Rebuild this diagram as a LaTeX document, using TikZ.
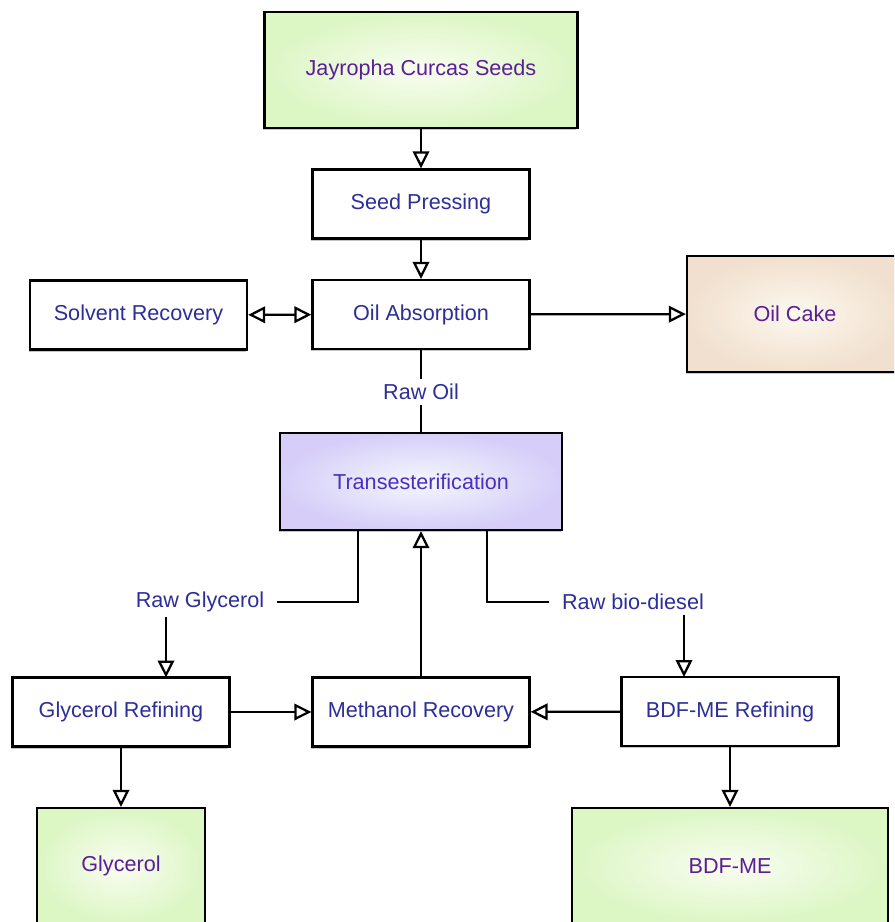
\documentclass[tikz,border=0pt]{standalone}
\usepackage{fontspec}
\setmainfont{Liberation Sans}
\usetikzlibrary{arrows.meta,calc,shadows}

\definecolor{boxtext}{HTML}{2E2E9A}
\definecolor{seedtext}{HTML}{5A1E96}
\definecolor{transtext}{HTML}{4B30C0}
\definecolor{greenout}{HTML}{DCF6C4}
\definecolor{greenin}{HTML}{F9FDF1}
\definecolor{lilacout}{HTML}{D6CEF8}
\definecolor{lilacin}{HTML}{F3F7FF}
\definecolor{cakeout}{HTML}{F1E0CF}
\definecolor{cakein}{HTML}{FCF8EE}

\begin{document}
\begin{tikzpicture}[x=0.02cm, y=-0.02cm, > = {Triangle[open,length=3.4mm,width=3.3mm]},
    every node/.style={font=\fontsize{12.3}{14}\selectfont},
    boxshadow/.style={drop shadow={shadow xshift=-0.8pt, shadow yshift=-1.4pt, fill=black!45, opacity=0.5}},
    stage/.style={draw, line width=1.3pt, minimum width=4.34cm, minimum height=1.38cm, fill=white, text=boxtext, boxshadow},
    product/.style={draw, line width=1.3pt, minimum height=2.32cm, text=seedtext, inner color=greenin, outer color=greenout, boxshadow},
    flowlabel/.style={text=boxtext, fill=white, inner xsep=7pt, inner ysep=2.5pt},
    flow/.style={line width=1.3pt}]
            \useasboundingbox (0,0) rectangle (894,922);
            \clip (0,0) rectangle (894,922);
            \node[product, minimum width=6.26cm] (seeds) at (421,70) {Jayropha Curcas Seeds};
            \node[stage] (press) at (421,204) {Seed Pressing};
            \node[stage] (absorb) at (421,314.5) {Oil Absorption};
            \node[stage] (solvent) at (138.5,315) {Solvent Recovery};
            \node[product, minimum width=4.32cm, inner color=cakein, outer color=cakeout] (cake) at (795,314) {Oil Cake};
            \node[flowlabel] (rawoil) at (421,392) {Raw Oil};
            \node[stage, minimum width=5.64cm, minimum height=1.94cm, text=transtext, inner color=lilacin, outer color=lilacout] (trans) at (421,481.5) {Transesterification};
            \node[flowlabel] (rawgly) at (200,602) {Raw Glycerol};
            \node[flowlabel] (rawbdf) at (633,602) {Raw bio-diesel};
            \node[stage] (glyref) at (121,712) {Glycerol Refining};
            \node[stage] (methrec) at (421,712) {Methanol Recovery};
            \node[stage] (bdfref) at (730,711.5) {BDF-ME Refining};
            \node[product, minimum width=3.36cm] (glycerol) at (121,866) {Glycerol};
            \node[product, minimum width=6.32cm] (bdfme) at (730,866) {BDF-ME};
            \coordinate (glyin) at (166,677.5);
            \coordinate (bdfin) at (684,677);
            \draw[flow,->] (seeds) -- (press);
            \draw[flow,->] (press) -- (absorb);
            \draw[flow,<->] (solvent) -- (absorb);
            \draw[flow,->] (absorb) -- (cake);
            \draw[flow] (absorb) -- (rawoil);
            \draw[flow] (rawoil) -- (trans);
            \draw[flow] ($(trans.south)+(-63,0)$) |- (rawgly);
            \draw[flow] ($(trans.south)+(66,0)$) |- (rawbdf);
            \draw[flow,->] (rawgly.south -| glyin) -- (glyin);
            \draw[flow,->] (rawbdf.south -| bdfin) -- (bdfin);
            \draw[flow,->] (methrec) -- (trans);
            \draw[flow,->] (glyref) -- (methrec);
            \draw[flow,->] (bdfref) -- (methrec);
            \draw[flow,->] (glyref) -- (glycerol);
            \draw[flow,->] (bdfref) -- (bdfme);
        \end{tikzpicture}
\end{document}
